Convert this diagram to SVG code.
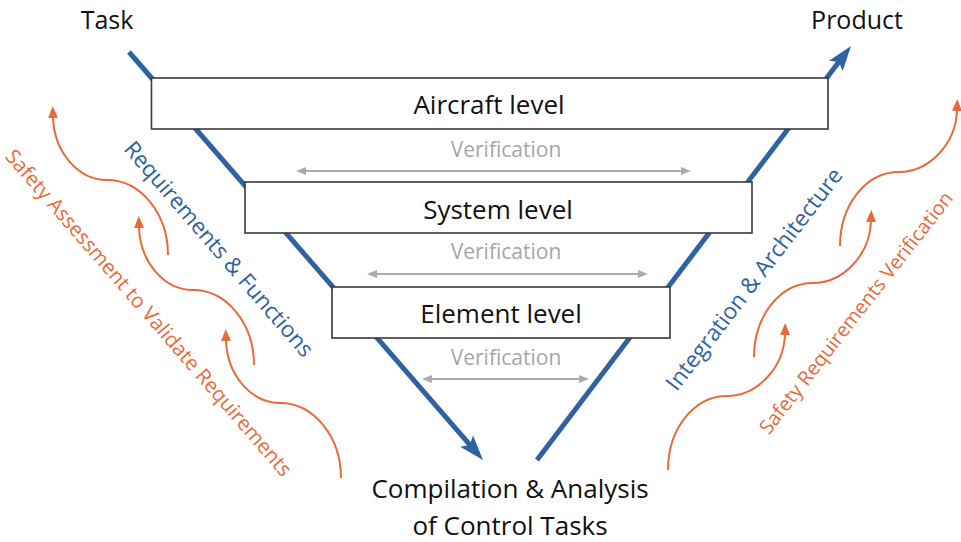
<svg xmlns="http://www.w3.org/2000/svg" width="961" height="542" viewBox="0 0 961 542">
  <style>
    .lbl { font-family: "Open Sans", "Noto Sans", "DejaVu Sans", sans-serif; fill: #111; text-anchor: middle; }
    .big { font-size: 26px; }
    .ver { font-family: "Open Sans", "Noto Sans", sans-serif; font-size: 21px; fill: #a6a6a6; text-anchor: middle; }
    .box { fill: #ffffff; stroke: #3a3a3a; stroke-width: 1.6; }
    .vline { stroke: #2f62a0; stroke-width: 5; fill: none; }
    .vhead { fill: #2f62a0; }
    .gray { stroke: #acacac; stroke-width: 2; fill: none; marker-start: url(#gh); marker-end: url(#gh); }
    .wave { stroke: #e8693a; stroke-width: 2; fill: none; marker-end: url(#oh); }
    .blue-t { font-family: "Open Sans", "Noto Sans", sans-serif; fill: #2f62a0; text-anchor: middle; }
    .orange-t { font-family: "Open Sans", "Noto Sans", sans-serif; fill: #e8693a; text-anchor: middle; }
  </style>
  <defs>
    <marker id="gh" viewBox="0 0 10 8" refX="1" refY="4" markerWidth="10" markerHeight="8" markerUnits="userSpaceOnUse" orient="auto-start-reverse">
      <path d="M0,0 L10,4 L0,8 z" fill="#acacac"/>
    </marker>
    <marker id="oh" viewBox="0 0 12 10" refX="1" refY="5" markerWidth="12" markerHeight="10" markerUnits="userSpaceOnUse" orient="auto">
      <path d="M0,0 L12,5 L0,10 z" fill="#e8693a"/>
    </marker>
  </defs>

  <!-- V-model spine: descending and ascending legs -->
  <g id="connectors">
    <path class="vline" d="M129,52 L471.2,446.4"/>
    <polygon class="vhead" points="483,460 460.2,446.7 469.9,444.9 473.0,435.5"/>
    <path class="vline" d="M537,460 L840.1,60.3"/>
    <polygon class="vhead" points="851,46 842.7,71.0 838.9,61.9 829.1,60.8"/>

    <!-- verification links between levels -->
    <line class="gray" x1="305" y1="171" x2="682" y2="171"/>
    <line class="gray" x1="376" y1="274" x2="639" y2="274"/>
    <line class="gray" x1="431" y1="379" x2="580" y2="379"/>

    <!-- safety assessment waves, left side -->
    <path class="wave" d="M168,255 C168,214 141,180 107,180 C78,180 54,152 53,117"/>
    <path class="wave" transform="translate(86,110)" d="M168,255 C168,214 141,180 107,180 C78,180 54,152 53,117"/>
    <path class="wave" transform="translate(173,223)" d="M168,255 C168,214 141,180 107,180 C78,180 54,152 53,117"/>

    <!-- safety verification waves, right side -->
    <path class="wave" d="M668,470 C668,429 694,396 727,396 C757,396 784,368 785,334"/>
    <path class="wave" transform="translate(86,-113)" d="M668,470 C668,429 694,396 727,396 C757,396 784,368 785,334"/>
    <path class="wave" transform="translate(172,-224)" d="M668,470 C668,429 694,396 727,396 C757,396 784,368 785,334"/>
  </g>

  <g id="task">
    <text class="lbl" x="107" y="29" font-size="25">Task</text>
  </g>
  <g id="product">
    <text class="lbl" x="857" y="29" font-size="25">Product</text>
  </g>

  <g id="aircraft-level">
    <rect class="box" x="151.5" y="78" width="676.5" height="51"/>
    <text class="lbl big" x="489" y="114">Aircraft level</text>
  </g>
  <g id="system-level">
    <rect class="box" x="245" y="182" width="507" height="51"/>
    <text class="lbl big" x="498" y="219">System level</text>
  </g>
  <g id="element-level">
    <rect class="box" x="332" y="287" width="338" height="51"/>
    <text class="lbl big" x="501" y="323">Element level</text>
  </g>

  <g id="verification-labels">
    <text class="ver" x="506" y="157">Verification</text>
    <text class="ver" x="506" y="259">Verification</text>
    <text class="ver" x="506" y="365">Verification</text>
  </g>

  <g id="control-tasks">
    <text class="lbl big" x="510" y="498">Compilation &amp; Analysis</text>
    <text class="lbl big" x="510" y="535">of Control Tasks</text>
  </g>

  <g id="side-labels">
    <text class="blue-t" font-size="22.4" transform="translate(213,254) rotate(49.2)">Requirements &amp; Functions</text>
    <text class="orange-t" font-size="20.5" transform="translate(143.4,317.4) rotate(49.1)">Safety Assessment to Validate Requirements</text>
    <text class="blue-t" font-size="22.6" transform="translate(760.3,283.9) rotate(-52.4)">Integration &amp; Architecture</text>
    <text class="orange-t" font-size="19.8" transform="translate(861.5,317) rotate(-52)">Safety Requirements Verification</text>
  </g>
</svg>
